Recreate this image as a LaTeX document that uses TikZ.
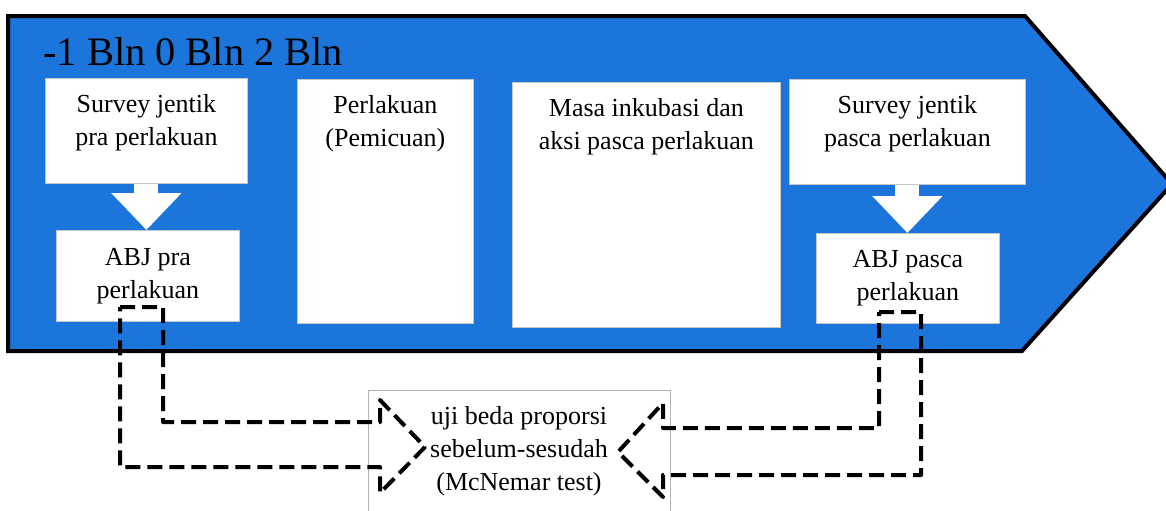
\documentclass[tikz,border=0pt]{standalone}
\usepackage{fontspec}
\setmainfont{LiberationSerif}[Extension=.ttf,UprightFont=*-Regular,BoldFont=*-Bold,ItalicFont=*-Italic]
\usetikzlibrary{arrows.meta,positioning}
\definecolor{arrowblue}{RGB}{28,117,218}

\begin{document}
\begin{tikzpicture}
	[x=0.5pt,y=-0.5pt,
		box/.style={rectangle,draw=gray!45,line width=0.4pt,fill=white,anchor=north west,inner sep=0pt,align=center,font=\fontsize{13pt}{16.5pt}\selectfont},
		txt/.style={align=center,inner sep=2pt,font=\fontsize{13pt}{16.5pt}\selectfont},
		bigarrow/.style={white,line width=12pt,-{Triangle[width=34pt,length=18.5pt]}},
		dashline/.style={draw=black,line width=2pt,dash pattern=on 7.5pt off 3.5pt,line join=round}]

	\useasboundingbox (0,0) rectangle (1166,510);
	\fill[white] (0,0) rectangle (1166,510);
	\clip (0,0) rectangle (1166,510);

	% time line
	\draw[fill=arrowblue,line width=2pt,line join=miter] (8,16) -- (1025,16) -- (1172,184) -- (1022,351) -- (8,351) -- cycle;
	\node[anchor=base west,inner sep=0pt,font=\fontsize{20.2pt}{24pt}\selectfont] (T1) at (43,65) {-1 Bln 0 Bln 2 Bln};

	\node[box,minimum width=101pt,minimum height=52.5pt] (S1) at (45,78) {};
	\node[txt,below=6pt of S1.north] (S1t) {Survey jentik\\pra perlakuan};
	\node[box,minimum width=91.5pt,minimum height=45.5pt] (A1) at (56,230) {ABJ pra\\perlakuan};

	\node[box,minimum width=88pt,minimum height=122pt] (P1) at (297,79) {};
	\node[txt,below=6pt of P1.north] (P1t) {Perlakuan\\(Pemicuan)};

	\node[box,minimum width=134pt,minimum height=122.5pt] (M1) at (512,82) {};
	\node[txt,below=6pt of M1.north] (M1t) {Masa inkubasi dan\\aksi pasca perlakuan};

	\node[box,minimum width=118pt,minimum height=52.5pt] (S2) at (789,79) {};
	\node[txt,below=6pt of S2.north] (S2t) {Survey jentik\\pasca perlakuan};
	\node[box,minimum width=91.5pt,minimum height=45pt] (A2) at (816,233) {ABJ pasca\\perlakuan};

	\draw[bigarrow] (S1.south) -- (S1.south |- A1.north);
	\draw[bigarrow] (S2.south) -- (S2.south |- A2.north);

	% test
	\node[box,draw=gray!60,minimum width=151pt,minimum height=70pt] (U1) at (368,390) {};
	\node[txt] (U1t) at (519,451) {uji beda proporsi\\sebelum-sesudah\\(McNemar test)};

	\draw[dashline] (120,307) -- (163,307) -- (163,422) -- (380,422) -- (380,400) -- (425,447)
		-- (380,493) -- (380,467) -- (120,467) -- cycle;
	\draw[dashline] (879,312) -- (921,312) -- (921,475) -- (663,475) -- (663,497) -- (618,452)
		-- (663,403) -- (663,428) -- (879,428) -- cycle;

\end{tikzpicture}
\end{document}
